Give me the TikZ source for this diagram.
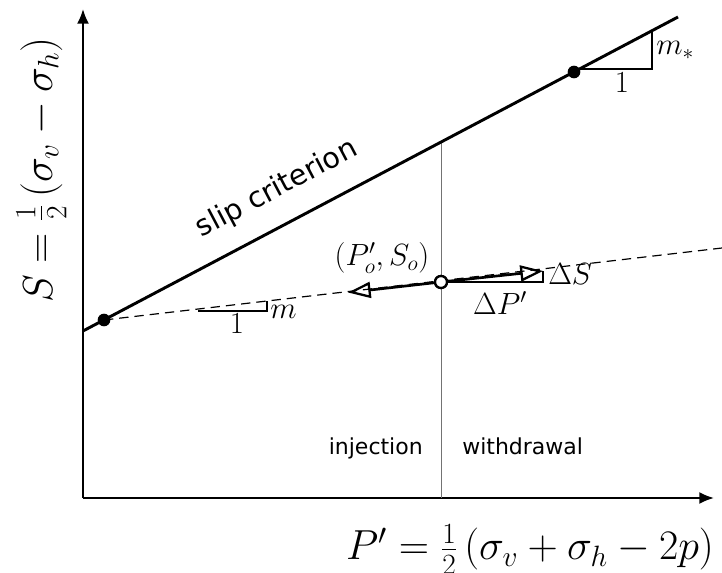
\RequirePackage{fix-cm}
\documentclass[tikz,border=0pt]{standalone}
\usepackage{fontspec}
\newfontfamily\dejavu{DejaVu Sans}
\usetikzlibrary{arrows.meta}
\tikzset{
  axisline/.style={line width=1.5pt,-{Latex[length=11pt,width=9pt]}},
  slipline/.style={line width=2.2pt},
  dashline/.style={line width=0.9pt,dash pattern=on 7pt off 4.5pt},
  guide/.style={line width=0.75pt,black!55},
  tri/.style={line width=1.5pt},
  vecarrow/.style={line width=2pt,-{Triangle[open,length=17pt,width=12pt,line width=1.7pt]}},
  bigmath/.style={font=\fontsize{31.5}{36}\selectfont,inner sep=0pt},
  smallmath/.style={font=\fontsize{23}{27}\selectfont,inner sep=0pt},
  sanslab/.style={font=\dejavu\fontsize{16.5}{19}\selectfont,inner sep=0pt},
  sliplab/.style={font=\dejavu\fontsize{21.5}{25}\selectfont,inner sep=0pt},
  blackdot/.style={circle,fill=black,minimum size=9.5pt,inner sep=0pt},
  opendot/.style={circle,draw,line width=1.7pt,fill=white,minimum size=9pt,inner sep=0pt},
}
\begin{document}
\begin{tikzpicture}[x=0.75pt,y=-0.75pt]
\useasboundingbox (0,0) rectangle (722,573);
% axes
\coordinate (O) at (83,498);
\coordinate (ytip) at (83,9);
\coordinate (xtip) at (714,498);
\draw[axisline] (O) -- (ytip);
\draw[axisline] (O) -- (xtip);
% slip criterion line
\coordinate (sA) at (83,331);
\coordinate (sB) at (678,17);
\coordinate (top) at (441,142.1);
\coordinate (bot) at (441,498);
\draw[guide] (top) -- (bot);
\draw[slipline] (sA) -- (sB);
% dashed line
\coordinate (dA) at (104,320);
\coordinate (dB) at (722,248);
\draw[dashline] (dA) -- (dB);
% slope triangle m*
\coordinate (t1) at (579.5,69);
\coordinate (t2) at (652,69);
\coordinate (t3) at (652,31);
\draw[tri] (t1) -- (t2) -- (t3);
% slope triangle m
\coordinate (u1) at (198,311);
\coordinate (u2) at (267,311);
\coordinate (u3) at (267,301.5);
\draw[tri] (u1) -- (u2) -- (u3);
% increments
\node[opendot] (Po) at (441,282) {};
\coordinate (Ltip) at (348,292.5);
\coordinate (Rtip) at (543,271);
\coordinate (Rc) at (543,282);
\draw[tri] (Po) -- (Rc) -- (Rtip);
\draw[vecarrow] (Po) -- (Ltip);
\draw[vecarrow] (Po) -- (Rtip);
\node[opendot] at (Po) {};
% dots
\node[blackdot] (d1) at (104,320) {};
\node[blackdot] (d2) at (574,72) {};
% labels
\node[bigmath,rotate=90,anchor=base] (ylab) at (52,170) {$S=\frac{1}{2}\left(\sigma_v-\sigma_h\right)$};
\node[bigmath,anchor=base] (xlab) at (530,560) {$P'=\frac{1}{2}\left(\sigma_v+\sigma_h-2p\right)$};
\node[sliplab,rotate=27.8] (slip) at (277,189) {slip criterion};
\node[sanslab,anchor=base east] (inj) at (423,455) {injection};
\node[sanslab,anchor=base west] (wd) at (462,455) {withdrawal};
\node[smallmath,anchor=base west] (mstar) at (656,55) {$m_*$};
\node[smallmath,anchor=base] (one1) at (622,93) {$1$};
\node[smallmath,anchor=base west] (m) at (270,319) {$m$};
\node[smallmath,anchor=base] (one2) at (237,334) {$1$};
\node[smallmath,anchor=base] (pos) at (382,266) {$(P'_o,S_o)$};
\node[smallmath,anchor=base west] (dS) at (548,285) {$\Delta S$};
\node[smallmath,anchor=base] (dP) at (500,315) {$\Delta P'$};
\end{tikzpicture}
\end{document}
